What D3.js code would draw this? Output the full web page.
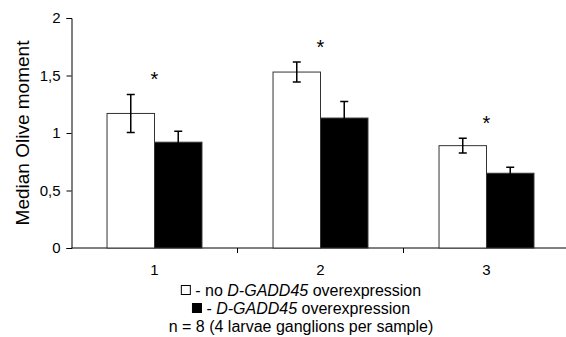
<!DOCTYPE html>
<html>
<head>
<meta charset="utf-8">
<script src="https://cdn.jsdelivr.net/npm/d3@7"></script>
<style>
  html, body { margin: 0; padding: 0; background: #fff; }
  svg { display: block; font-family: "Liberation Sans", Arial, sans-serif; }
  .keep-space { white-space: pre; }
</style>
</head>
<body>
<svg id="chart" width="566" height="337"></svg>
<script>
// Sample groups on the x axis
const categories = ["1", "2", "3"];
// Series: without / with D-GADD45 overexpression
const seriesKeys = ["control", "gadd45"];
const controlValues = [1.17, 1.53, 0.89];
const controlErrors = [0.165, 0.087, 0.064];
const gadd45Values = [0.92, 1.13, 0.65];
const gadd45Errors = [0.095, 0.143, 0.052];
// Groups marked as significantly different
const significant = [true, true, true];
const yTicks = [0, 0.5, 1, 1.5, 2];
const yLabel = "Median Olive moment";
const footnote = "n = 8 (4 larvae ganglions per sample)";

const svg = d3.select("#chart");
const margin = { left: 71.5, right: -3.5, top: 18, bottom: 89 };
const W = 566, H = 337;

const y = d3.scaleLinear().domain([0, 2]).range([H - margin.bottom, margin.top]);
const x0 = d3.scaleBand().domain(categories)
  .range([margin.left, W - margin.right])
  .paddingInner(0.428).paddingOuter(0.214);
const x1 = d3.scaleBand().domain(seriesKeys).range([0, x0.bandwidth()]);

const fmt = d => String(d).replace(".", ",");

// y axis
const yAxis = svg.append("g")
  .attr("transform", `translate(${margin.left},0)`)
  .call(d3.axisLeft(y).tickValues(yTicks).tickFormat(fmt).tickSize(5).tickPadding(6));
yAxis.select(".domain").attr("stroke", "#000");
yAxis.selectAll("line").attr("stroke", "#000");
yAxis.selectAll("text").attr("font-size", 15).attr("fill", "#000")
  .attr("font-family", "Liberation Sans, Arial, sans-serif");

// x axis: ticks sit on the boundaries between groups
const step = x0.step();
const boundaries = d3.range(categories.length + 1).map(i => margin.left + i * step);
const xAxisG = svg.append("g");
xAxisG.append("line")
  .attr("x1", margin.left).attr("x2", W - margin.right)
  .attr("y1", y(0)).attr("y2", y(0))
  .attr("stroke", "#000").attr("stroke-width", 1);
xAxisG.selectAll(".xt").data(boundaries.slice(1)).join("line")
  .attr("class", "xt")
  .attr("x1", d => d).attr("x2", d => d)
  .attr("y1", y(0)).attr("y2", y(0) + 5)
  .attr("stroke", "#000");
xAxisG.selectAll(".xl").data(categories).join("text")
  .attr("class", "xl")
  .attr("x", d => x0(d) + x0.bandwidth() / 2)
  .attr("y", y(0) + 27)
  .attr("text-anchor", "middle")
  .attr("font-size", 15)
  .text(d => d);

// y label
svg.append("text")
  .attr("transform", `translate(29,${(y(0) + y(2)) / 2}) rotate(-90)`)
  .attr("text-anchor", "middle")
  .attr("font-size", 19)
  .text(yLabel);

const rows = categories.map((c, i) => ({
  cat: c,
  bars: [
    { key: "control", value: controlValues[i], err: controlErrors[i] },
    { key: "gadd45", value: gadd45Values[i], err: gadd45Errors[i] }
  ]
}));
const fill = { control: "#fff", gadd45: "#000" };

const groups = svg.selectAll(".grp").data(rows).join("g")
  .attr("class", "grp")
  .attr("transform", d => `translate(${x0(d.cat)},0)`);

groups.selectAll("rect").data(d => d.bars).join("rect")
  .attr("x", d => x1(d.key))
  .attr("y", d => y(d.value))
  .attr("width", x1.bandwidth())
  .attr("height", d => y(0) - y(d.value))
  .attr("fill", d => fill[d.key])
  .attr("stroke", "#333")
  .attr("stroke-width", 1);

// error bars
const capW = 4;
groups.selectAll(".err").data(d => d.bars).join("path")
  .attr("class", "err")
  .attr("fill", "none")
  .attr("stroke", "#000")
  .attr("stroke-width", 1.5)
  .attr("d", d => {
    const cx = x1(d.key) + x1.bandwidth() / 2;
    const t = y(d.value + d.err), b = y(d.value - d.err);
    return `M${cx - capW},${t}H${cx + capW}M${cx},${t}V${b}M${cx - capW},${b}H${cx + capW}`;
  });

// significance marks
groups.filter((d, i) => significant[i]).append("text")
  .attr("x", x1("gadd45"))
  .attr("y", d => y(d.bars[0].value + d.bars[0].err) - 8)
  .attr("text-anchor", "middle")
  .attr("font-size", 20)
  .text("*");

// legend
const legendCx = 301;
const legendFont = 16;
const legendRows = [
  { key: "control", parts: [[" - no ", false], ["D-GADD45", true], [" overexpression", false]], y: 296 },
  { key: "gadd45", parts: [[" - ", false], ["D-GADD45", true], [" overexpression", false]], y: 314 }
];
legendRows.forEach(r => {
  const g = svg.append("g");
  const t = g.append("text").attr("class", "keep-space").attr("font-size", legendFont).attr("y", r.y);
  r.parts.forEach(([s, it]) => t.append("tspan").attr("font-style", it ? "italic" : "normal").text(s));
  const tw = t.node().getComputedTextLength();
  const box = 10;
  const total = box + tw;
  const x = legendCx - total / 2;
  g.append("rect").attr("x", x + 0.5).attr("y", r.y - 10.5).attr("width", box - 1).attr("height", box - 1)
    .attr("fill", fill[r.key]).attr("stroke", "#000").attr("stroke-width", 1);
  t.attr("x", x + box);
});
svg.append("text").attr("x", legendCx).attr("y", 332).attr("text-anchor", "middle")
  .attr("font-size", legendFont).text(footnote);
</script>
</body>
</html>
